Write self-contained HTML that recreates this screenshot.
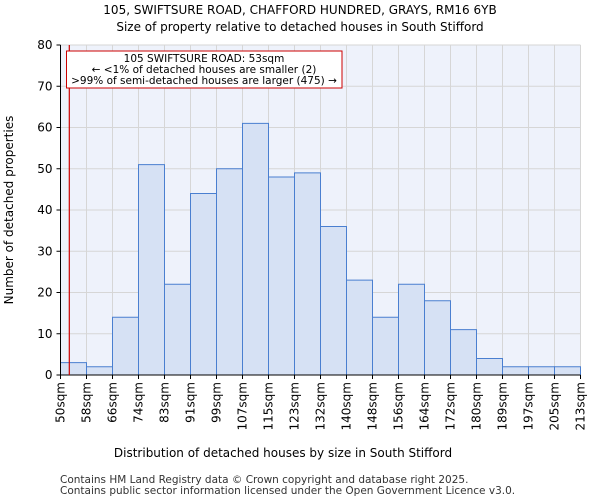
<!DOCTYPE html>
<html><head><meta charset="utf-8"><style>
body{margin:0;background:#fff;font-family:"DejaVu Sans","Liberation Sans",sans-serif;}
</style></head><body>
<svg width="600" height="500" xmlns="http://www.w3.org/2000/svg" font-family="DejaVu Sans, Liberation Sans, sans-serif">
<text x="300" y="14" text-anchor="middle" font-size="12">105, SWIFTSURE ROAD, CHAFFORD HUNDRED, GRAYS, RM16 6YB</text>
<text x="300" y="31" text-anchor="middle" font-size="12">Size of property relative to detached houses in South Stifford</text>
<rect x="60.5" y="45" width="520" height="330" fill="#eef2fb"/>
<g id="grid"></g>
<g id="bars"></g>
<g id="axes"></g>
<line x1="69.3" y1="45" x2="69.3" y2="375" stroke="#cc0000" stroke-width="1.2"/>
<rect x="66.5" y="51" width="275.5" height="37" fill="#fff" stroke="#cc0000"/>
<text font-size="10.5" text-anchor="middle"><tspan x="204" y="62">105 SWIFTSURE ROAD: 53sqm</tspan><tspan x="204" y="73">← &lt;1% of detached houses are smaller (2)</tspan><tspan x="204" y="84">&gt;99% of semi-detached houses are larger (475) →</tspan></text>
<text x="283" y="457" text-anchor="middle" font-size="12">Distribution of detached houses by size in South Stifford</text>
<text transform="translate(13,210) rotate(-90)" text-anchor="middle" font-size="12">Number of detached properties</text>
<text x="60" y="483" font-size="10.5" fill="#333">Contains HM Land Registry data © Crown copyright and database right 2025.</text>
<text x="60" y="494" font-size="10.5" fill="#333">Contains public sector information licensed under the Open Government Licence v3.0.</text>
</svg>
<script>
const categories=["50sqm","58sqm","66sqm","74sqm","83sqm","91sqm","99sqm","107sqm","115sqm","123sqm","132sqm","140sqm","148sqm","156sqm","164sqm","172sqm","180sqm","189sqm","197sqm","205sqm","213sqm"];
const values=[3,2,14,51,22,44,50,61,48,49,36,23,14,22,18,11,4,2,2,2];
const yTicks=[0,10,20,30,40,50,60,70,80];
const NS="http://www.w3.org/2000/svg";
const x0=60.5,bw=26,yb=375,yMax=80,ph=330;
const xs=i=>x0+i*bw, ys=v=>yb-v/yMax*ph;
function mk(t,a,p){const e=document.createElementNS(NS,t);for(const k in a)e.setAttribute(k,a[k]);p.appendChild(e);return e;}
const g=document.getElementById('grid'),b=document.getElementById('bars'),ax=document.getElementById('axes');
yTicks.forEach(t=>{const l=mk('line',{x1:x0,x2:x0+520,y1:ys(t),y2:ys(t),stroke:'#d6d6d6'},g);


const tk=mk('line',{x1:x0-4,x2:x0,y1:ys(t),y2:ys(t),stroke:'#000'},ax);


const tx=mk('text',{x:x0-8,y:ys(t)+4,'text-anchor':'end','font-size':'12'},ax);tx.textContent=t;

});
categories.forEach((c,i)=>{const l=mk('line',{x1:xs(i),x2:xs(i),y1:45,y2:yb,stroke:'#d6d6d6'},g);


const tk=mk('line',{x1:xs(i),x2:xs(i),y1:yb,y2:yb+4,stroke:'#000'},ax);


const tx=mk('text',{transform:`translate(${xs(i)+4},${yb+7}) rotate(-90)`,'text-anchor':'end','font-size':'12'},ax);tx.textContent=c;

});
values.forEach((v,i)=>{const r=mk('rect',{x:xs(i),y:ys(v),width:bw,height:yb-ys(v),fill:'#d6e1f4',stroke:'#4a7fd0','stroke-width':1},b);

});
const a1=mk('line',{x1:x0,x2:x0,y1:45,y2:yb,stroke:'#000'},ax);


const a2=mk('line',{x1:x0,x2:x0+520,y1:yb,y2:yb,stroke:'#000'},ax);


</script>
</body></html>
